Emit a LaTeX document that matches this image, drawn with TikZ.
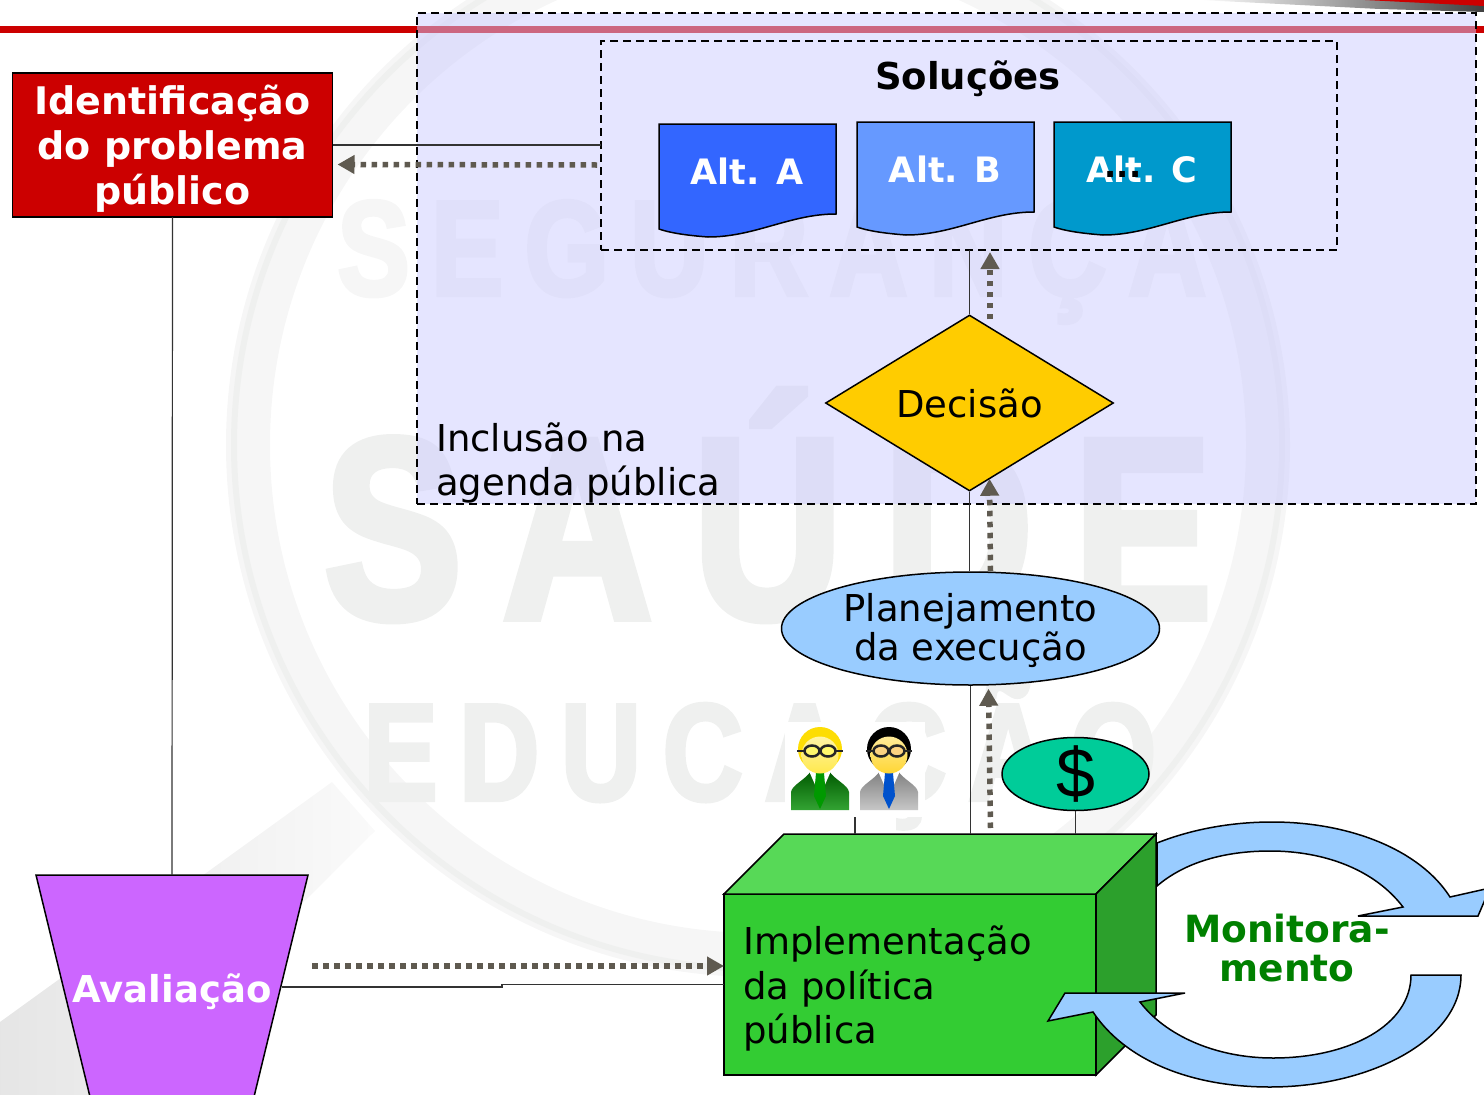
\documentclass[tikz,border=0pt]{standalone}
\usepackage{fontspec}
\setmainfont{DejaVu Sans}
\newfontfamily\dollarfont{Liberation Sans}
\newfontfamily\wmfont[FakeStretch=0.8,FakeBold=3,LetterSpace=16,UprightFont=* Bold]{Liberation Sans}
\usetikzlibrary{positioning,shapes,arrows.meta}
\definecolor{wmark}{RGB}{239,240,239}
\definecolor{wmpale}{RGB}{246,246,246}
\definecolor{dotgray}{RGB}{95,90,80}
\definecolor{loopblue}{RGB}{153,204,255}
\definecolor{probred}{RGB}{204,0,0}
\definecolor{agendablue}{RGB}{204,204,255}
\definecolor{altAblue}{RGB}{51,102,255}
\definecolor{altBblue}{RGB}{102,153,255}
\definecolor{altCblue}{RGB}{0,153,204}
\definecolor{decyellow}{RGB}{255,204,0}
\definecolor{moneygreen}{RGB}{0,204,153}
\definecolor{implfront}{RGB}{51,204,51}
\definecolor{impltop}{RGB}{87,217,87}
\definecolor{implside}{RGB}{44,160,44}
\definecolor{avalpurple}{RGB}{204,102,255}
\definecolor{monitgreen}{RGB}{0,128,0}
\tikzstyle{box}=[rectangle, draw=black, line width=1.5pt, align=center, inner sep=0pt, outer sep=0pt]
\tikzstyle{alttext}=[text=white, font=\bfseries\fontsize{35pt}{40pt}\selectfont]
\tikzstyle{plain}=[font=\fontsize{37pt}{44pt}\selectfont, align=left, inner sep=0pt]
\tikzstyle{wm}=[text=wmark, inner sep=0pt]
\tikzstyle{dashbox}=[draw=black, line width=1.8pt, dash pattern=on 8pt off 5pt, inner sep=0pt, outer sep=0pt, anchor=north west]
\tikzstyle{dotted arrow}=[draw=dotgray, line width=5.5pt, dash pattern=on 5.5pt off 5.5pt, -{Triangle[length=17pt,width=18pt,fill=dotgray,sep=0pt]}]
\tikzstyle{thinline}=[draw=black!80, line width=1.2pt]
\tikzstyle{loopline}=[draw=black, line width=1.5pt, fill=loopblue]
\newcommand{\altdoc}[5]{%
    \filldraw[draw=black, line width=1.5pt, fill=#3] (#2,#4) -- (#2+177,#4) -- (#2+177,#4+90)
        .. controls (#2+131,#4+90) and (#2+96,#4+113) .. (#2+49,#4+113)
        .. controls (#2+36,#4+112) and (#2+14,#4+110) .. (#2,#4+105) -- cycle;
    \node (#1) [alttext] at (#2+88,#4+47) {#5};
}
\newcommand{\person}[6]{%
    \shade[top color=#3, bottom color=#4] (#1-29,810) -- (#1-29,792) .. controls (#1-28,785) and (#1-15,780) .. (#1-9,771) -- (#1+9,771) .. controls (#1+15,780) and (#1+28,785) .. (#1+29,792) -- (#1+29,810) -- cycle;
    \fill[white] (#1-11,771) -- (#1+11,771) -- (#1,796) -- cycle;
    \fill[#2] (#1-4,773) -- (#1+4,773) -- (#1+6,796) -- (#1,809) -- (#1-6,796) -- cycle;
    \fill[#5] (#1,749) circle (22);
    \shade[top color=#6!50!white, bottom color=#6] (#1,755) circle (18.5);
    \draw[line width=2.5pt, black!85] (#1-23,751) -- (#1-15,751) (#1+15,751) -- (#1+23,751);
    \draw[line width=2.5pt, black!85, fill=white!70!#6] (#1-8,751) ellipse (7.5 and 5.5) (#1+8,751) ellipse (7.5 and 5.5);
}
\begin{document}
\begin{tikzpicture}[x=1pt,y=-1pt]
    \useasboundingbox (0,0) rectangle (1484,1095);
    \clip (0,0) rectangle (1484,1095);

    % watermark
    \draw[wmpale, line width=44pt] (758,445) circle (510);
    \draw[wmark, line width=6pt] (758,445) circle (524);
    \shade[left color=black!10, right color=black!2] (0,1022) -- (332,782) -- (375,831) -- (110,1095) -- (0,1095) -- cycle;
    \node (wmSeg) [wm, text=wmpale, font=\wmfont\fontsize{135pt}{135pt}\selectfont] at (772,262) {SEGURANÇA};
    \node (wmSau) [wm, font=\wmfont\fontsize{258pt}{258pt}\selectfont] at (768,505) {SAÚDE};
    \node (wmEdu) [wm, font=\wmfont\fontsize{138pt}{138pt}\selectfont] at (760,753) {EDUCAÇÃO};

    % top rule and corner
    \fill[probred] (0,26) rectangle (1484,33);
    \shade[left color=white, right color=black!75] (1200,0) -- (1484,0) -- (1484,12) -- (1380,9) -- cycle;
    \fill[probred] (1365,0) -- (1484,0) -- (1484,6) -- cycle;

    % agenda area
    \node (agenda) [dashbox, fill=agendablue, fill opacity=.5, draw opacity=1, minimum width=1059pt, minimum height=491pt] at (417,13) {};
    \node (agendaDesc) [plain, anchor=north west] at (436,423) {Inclusão na\\agenda pública};

    % solutions
    \node (solucoes) [dashbox, minimum width=736pt, minimum height=209pt] at (601,41) {};
    \node (solucoesDesc) [font=\bfseries\fontsize{37pt}{42pt}\selectfont] at (968,79) {Soluções};
    \altdoc{altA}{659}{altAblue}{124}{Alt. A}
    \altdoc{altB}{857}{altBblue}{122}{Alt. B}
    \altdoc{altC}{1054}{altCblue}{122}{Alt. C}
    \node (altDots) [font=\bfseries\fontsize{32pt}{36pt}\selectfont] at (1123,174) {...};

    % main nodes
    \node (ident) [box, fill=probred, minimum width=320pt, minimum height=144pt, anchor=north west] at (12.5,73) {};
    \node (identDesc) [text=white, align=center, font=\bfseries\fontsize{38pt}{45pt}\selectfont] at ([yshift=-4pt]ident.center) {Identificação\\do problema\\público};
    \node (decisao) [diamond, draw=black, line width=1.5pt, fill=decyellow, font=\fontsize{37pt}{42pt}\selectfont, minimum width=288pt, minimum height=176pt, inner sep=0pt] at (969.5,403) {Decisão};
    \node (planej) [ellipse, draw=black, line width=1.5pt, fill=loopblue, minimum width=378pt, minimum height=113pt, inner sep=0pt] at (970.5,628.5) {};
    \node (planejDesc) [align=center, font=\fontsize{37pt}{39pt}\selectfont] at ([yshift=-2pt]planej.center) {Planejamento\\da execução};
    \node (people) [fill=white, minimum width=140pt, minimum height=95pt, inner sep=0pt] at (855,769.5) {};
    \person{820}{green!60!black}{green!35!black}{green!55!black!80!white}{yellow!80!orange}{orange!25!yellow!70!white}
    \person{889}{blue!60!cyan!80!black}{black!50}{black!22}{black}{yellow!60!orange!80!white}
    \node (dollar) [ellipse, draw=black, line width=1.5pt, fill=moneygreen, minimum width=147pt, minimum height=73pt, inner sep=0pt] at (1075.5,774) {};
    \node (dollarDesc) [font=\dollarfont\fontsize{70pt}{70pt}\selectfont] at (dollar.center) {\$};

    % implementation block
    \node (impl) [box, fill=implfront, minimum width=372pt, minimum height=181pt, anchor=north west] at (724,894) {};
    \coordinate (topA) at (784,834);
    \coordinate (topB) at (1156,834);
    \filldraw[draw=black, line width=1.5pt, fill=impltop] (impl.north west) -- (topA) -- (topB) -- (impl.north east) -- cycle;
    \filldraw[draw=black, line width=1.5pt, fill=implside] (impl.north east) -- (topB) -- ++(0,181) -- (impl.south east) -- cycle;
    \node (implDesc) [plain, font=\fontsize{37pt}{44.5pt}\selectfont, anchor=north west] at (743,926) {Implementação\\da política\\pública};

    % evaluation
    \coordinate (avalTop) at (172,875);
    \coordinate (avalEast) at (282,987);
    \filldraw[draw=black, line width=1.5pt, fill=avalpurple] (36,875) -- (308,875) -- (252,1105) -- (92,1105) -- cycle;
    \node (avaliacao) [text=white, font=\bfseries\fontsize{37pt}{42pt}\selectfont] at (172,992) {Avaliação};

    % monitoring loop
    \filldraw[loopline] (1157,843) .. controls (1195,828) and (1235,822) .. (1272,822) .. controls (1350,822) and (1420,850) .. (1450,897) -- (1490,888) -- (1478,916) -- (1358,916) -- (1403,907) .. controls (1375,870) and (1325,851) .. (1270,851) .. controls (1225,851) and (1185,862) .. (1157,886) -- cycle;
    \filldraw[loopline] (1461,975) .. controls (1461,1040) and (1370,1087) .. (1270,1087) .. controls (1190,1087) and (1125,1060) .. (1093,1012) -- (1048,1021) -- (1065,993) -- (1185,993) -- (1140,1002) .. controls (1165,1035) and (1215,1058) .. (1273,1058) .. controls (1350,1058) and (1411,1025) .. (1411,975) -- cycle;
    \node (monitor) [text=monitgreen, align=center, font=\bfseries\fontsize{37.5pt}{38.5pt}\selectfont] at (1287,948) {Monitora-\\mento};

    % connectors
    \draw[thinline] (ident.east) -- (ident.east -| solucoes.west);
    \draw[thinline] (ident.south) -- (avalTop);
    \draw[thinline] (avalEast) -- ++(220pt,0) |- (impl.west);
    \draw[thinline] (decisao.north) -- (decisao.north |- solucoes.south);
    \draw[thinline] (decisao.south) -- (decisao.south |- planej.north);
    \draw[thinline] (planej.south) -- (planej.south |- topA);
    \draw[thinline] (dollar.south) -- (dollar.south |- topA);
    \draw[thinline] (people.south) -- (people.south |- topA);

    \draw[dotted arrow] ([shift={(-4pt,-19.5pt)}]solucoes.west) -- ([shift={(5pt,-19.5pt)}]ident.east);
    \draw[dotted arrow] ([xshift=20.5pt,yshift=-5pt]decisao.north) -- ([xshift=20.5pt,yshift=-2pt]decisao.north |- solucoes.south);
    \draw[dotted arrow] ([xshift=20pt]planej.north) -- ([xshift=20pt,yshift=13pt]decisao.south);
    \draw[dotted arrow] ([xshift=20pt,yshift=6pt]planej.south |- topA) -- ([xshift=18pt,yshift=-3pt]planej.south);
    \draw[dotted arrow] ([xshift=30pt,yshift=21pt]avalEast) -- ([yshift=18.5pt]impl.west);
\end{tikzpicture}
\end{document}
